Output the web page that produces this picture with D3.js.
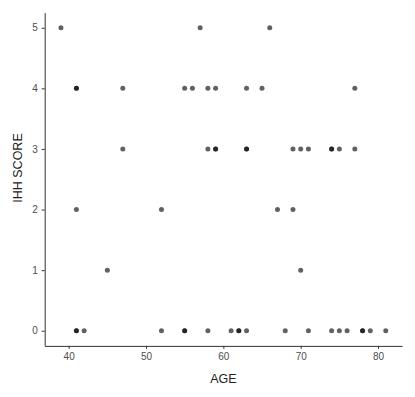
<!DOCTYPE html>
<html><head><meta charset="utf-8">
<script src="https://cdn.jsdelivr.net/npm/d3@7"></script>
<style>body{margin:0;background:#fff}</style>
</head><body>
<svg id="c" width="415" height="397"></svg>
<script>
const ages   = [39,57,66, 41,41,47,55,56,58,59,63,65,77, 47,58,59,59,63,63,69,70,71,74,74,75,77, 41,52,67,69, 45,70, 41,41,42,52,55,55,58,61,62,62,63,68,71,74,75,76,78,78,79,81];
const scores = [5,5,5, 4,4,4,4,4,4,4,4,4,4, 3,3,3,3,3,3,3,3,3,3,3,3,3, 2,2,2,2, 1,1, 0,0,0,0,0,0,0,0,0,0,0,0,0,0,0,0,0,0,0,0];
const xTicks = [40,50,60,70,80];
const yTicks = [0,1,2,3,4,5];
const data = ages.map((a,i)=>({age:a, score:scores[i]}));

const svg = d3.select("#c");
const L=44.7, R=402, T=12.6, B=345.9;
const x = d3.scaleLinear().domain([36.9,83.1]).range([L,R]);
const y = d3.scaleLinear().domain([-0.25,5.25]).range([B,T]);

const font = "Liberation Sans, Arial, sans-serif";
const xa = svg.append("g").attr("transform",`translate(0,${B})`)
  .call(d3.axisBottom(x).tickValues(xTicks).tickFormat(d3.format("d")).tickSize(3).tickPadding(4).tickSizeOuter(0));
const ya = svg.append("g").attr("transform",`translate(${L},0)`)
  .call(d3.axisLeft(y).tickValues(yTicks).tickFormat(d3.format("d")).tickSize(3).tickPadding(4).tickSizeOuter(0));
[xa,ya].forEach(g=>{
  g.select(".domain").attr("stroke","#333").attr("stroke-width",1);
  g.selectAll(".tick line").attr("stroke","#333");
  g.selectAll(".tick text").attr("fill","#4d4d4d").attr("font-family",font).attr("font-size","10px");
});

svg.append("g").selectAll("circle").data(data).join("circle")
  .attr("cx",d=>x(d.age)).attr("cy",d=>y(d.score)).attr("r",2.5)
  .attr("fill","#000").attr("fill-opacity",0.62);

svg.append("text").attr("x",(L+R)/2).attr("y",382.5).attr("text-anchor","middle")
  .attr("font-family",font).attr("font-size","12.5px").attr("fill","#222").text("AGE");
svg.append("text").attr("transform",`translate(22,168) rotate(-90)`).attr("text-anchor","middle")
  .attr("font-family",font).attr("font-size","12.5px").attr("fill","#222").text("IHH SCORE");
</script>
</body></html>
